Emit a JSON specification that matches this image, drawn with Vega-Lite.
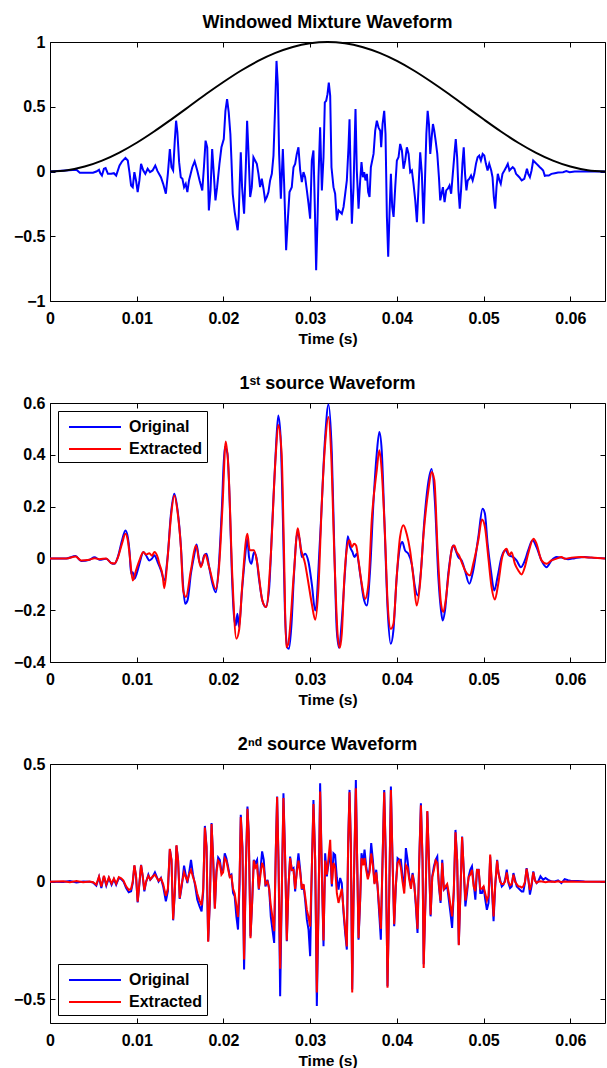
{
"$schema":"https://vega.github.io/schema/vega-lite/v6.json",
"background":"white",
"padding":{"left":12,"top":13,"right":2,"bottom":2},
"bounds":"flush",
"spacing":102,
"config":{
 "font":"Liberation Sans",
 "view":{"stroke":"black","strokeWidth":1},
 "axis":{"domain":false,"grid":false,"tickColor":"black","tickSize":-5,"tickWidth":1,"labelFont":"Liberation Sans","labelFontSize":16,"labelFontWeight":"bold","labelColor":"black","labelFlush":false,"labelOverlap":false,"titleFont":"Liberation Sans","titleFontSize":15.5,"titleFontWeight":"bold","titleColor":"black","titlePadding":5},
 "title":{"font":"Liberation Sans","fontSize":18,"fontWeight":"bold","color":"black","offset":2},
 "legend":{"title":null,"strokeColor":"black","fillColor":"white","padding":5,"symbolType":"M-2.6,0L2.6,0","symbolSize":400,"symbolStrokeWidth":2,"labelFont":"Liberation Sans","labelFontSize":16,"labelFontWeight":"bold","labelColor":"black","labelOffset":23,"symbolOffset":21,"rowPadding":3,"offset":8,"labelExpr":"datum.label + '    '"}
},
"datasets":{
"mix":[{"t":0,"v":0},{"t":0.00305,"v":0.013},{"t":0.00344,"v":-0.01},{"t":0.0042,"v":-0.01},{"t":0.00496,"v":-0.01},{"t":0.00534,"v":0},{"t":0.00565,"v":0.013},{"t":0.0058,"v":-0.013},{"t":0.00599,"v":-0.031},{"t":0.00622,"v":0.021},{"t":0.00641,"v":0.026},{"t":0.00668,"v":-0.018},{"t":0.00706,"v":-0.018},{"t":0.00737,"v":-0.013},{"t":0.00763,"v":-0.031},{"t":0.00802,"v":0.046},{"t":0.00832,"v":0.079},{"t":0.0087,"v":0.105},{"t":0.00897,"v":0.085},{"t":0.00916,"v":-0.005},{"t":0.00935,"v":-0.108},{"t":0.00954,"v":-0.121},{"t":0.00973,"v":-0.005},{"t":0.00992,"v":-0.069},{"t":0.01011,"v":-0.159},{"t":0.01031,"v":-0.069},{"t":0.0105,"v":0.059},{"t":0.01076,"v":0.008},{"t":0.01099,"v":-0.018},{"t":0.01126,"v":0.021},{"t":0.01153,"v":-0.005},{"t":0.01183,"v":0.008},{"t":0.01214,"v":0.046},{"t":0.0124,"v":0.003},{"t":0.01279,"v":-0.044},{"t":0.01305,"v":-0.095},{"t":0.01336,"v":-0.172},{"t":0.01359,"v":-0.018},{"t":0.01382,"v":0.174},{"t":0.01401,"v":0.033},{"t":0.0142,"v":0.008},{"t":0.01439,"v":0.238},{"t":0.01454,"v":0.392},{"t":0.01469,"v":0.303},{"t":0.01489,"v":0.072},{"t":0.01508,"v":-0.044},{"t":0.01527,"v":-0.056},{"t":0.01546,"v":-0.121},{"t":0.01565,"v":-0.095},{"t":0.01584,"v":-0.159},{"t":0.01603,"v":-0.069},{"t":0.01641,"v":0.033},{"t":0.01668,"v":0.079},{"t":0.01698,"v":0.008},{"t":0.01725,"v":-0.069},{"t":0.01756,"v":-0.146},{"t":0.01775,"v":0.033},{"t":0.01794,"v":0.238},{"t":0.01813,"v":0.187},{"t":0.01832,"v":-0.3},{"t":0.01851,"v":-0.146},{"t":0.0187,"v":0.174},{"t":0.01889,"v":-0.018},{"t":0.01908,"v":-0.223},{"t":0.01927,"v":-0.121},{"t":0.01954,"v":0.059},{"t":0.01977,"v":0.187},{"t":0.02004,"v":0.251},{"t":0.02023,"v":0.469},{"t":0.02042,"v":0.559},{"t":0.02061,"v":0.456},{"t":0.0208,"v":0.29},{"t":0.02092,"v":0.097},{"t":0.02107,"v":-0.172},{"t":0.0213,"v":-0.313},{"t":0.02145,"v":-0.377},{"t":0.02164,"v":-0.454},{"t":0.02176,"v":-0.35},{"t":0.02185,"v":-0.146},{"t":0.022,"v":0.149},{"t":0.02215,"v":-0.121},{"t":0.02238,"v":-0.326},{"t":0.02258,"v":0.033},{"t":0.02273,"v":0.392},{"t":0.02288,"v":0.162},{"t":0.02308,"v":-0.197},{"t":0.02327,"v":-0.121},{"t":0.02346,"v":0.11},{"t":0.02365,"v":0.085},{"t":0.02385,"v":0.059},{"t":0.02404,"v":-0.018},{"t":0.02423,"v":-0.121},{"t":0.02442,"v":-0.056},{"t":0.02462,"v":-0.133},{"t":0.02481,"v":-0.223},{"t":0.025,"v":-0.197},{"t":0.02519,"v":-0.159},{"t":0.02538,"v":-0.069},{"t":0.02558,"v":-0.018},{"t":0.02577,"v":0.123},{"t":0.02596,"v":0.495},{"t":0.02612,"v":0.854},{"t":0.02627,"v":0.674},{"t":0.02642,"v":0.136},{"t":0.02662,"v":-0.21},{"t":0.02685,"v":0.174},{"t":0.027,"v":-0.095},{"t":0.02723,"v":-0.608},{"t":0.02742,"v":-0.377},{"t":0.02762,"v":-0.159},{"t":0.02788,"v":-0.121},{"t":0.02808,"v":0.033},{"t":0.02827,"v":0.059},{"t":0.02846,"v":0.136},{"t":0.02865,"v":0.187},{"t":0.02885,"v":0.008},{"t":0.02904,"v":-0.082},{"t":0.02923,"v":-0.005},{"t":0.02942,"v":-0.044},{"t":0.02962,"v":-0.146},{"t":0.02981,"v":-0.249},{"t":0.03,"v":-0.364},{"t":0.03019,"v":0.085},{"t":0.03038,"v":0.162},{"t":0.03054,"v":-0.274},{"t":0.03069,"v":-0.762},{"t":0.03085,"v":-0.377},{"t":0.03096,"v":-0.044},{"t":0.03115,"v":0.341},{"t":0.03135,"v":-0.146},{"t":0.03154,"v":0.11},{"t":0.03169,"v":0.533},{"t":0.03185,"v":0.546},{"t":0.032,"v":0.597},{"t":0.03215,"v":0.687},{"t":0.03231,"v":0.585},{"t":0.03246,"v":0.033},{"t":0.03269,"v":-0.121},{"t":0.03288,"v":-0.172},{"t":0.03308,"v":-0.377},{"t":0.03327,"v":-0.3},{"t":0.03346,"v":-0.313},{"t":0.03365,"v":-0.326},{"t":0.03385,"v":-0.274},{"t":0.03404,"v":-0.172},{"t":0.03423,"v":-0.069},{"t":0.03442,"v":0.187},{"t":0.03454,"v":0.403},{"t":0.03469,"v":-0.095},{"t":0.03481,"v":-0.403},{"t":0.035,"v":-0.121},{"t":0.03523,"v":0.482},{"t":0.03538,"v":0.008},{"t":0.03558,"v":-0.287},{"t":0.03577,"v":-0.069},{"t":0.03592,"v":0.072},{"t":0.03608,"v":-0.044},{"t":0.03623,"v":-0.005},{"t":0.03638,"v":-0.069},{"t":0.03654,"v":-0.018},{"t":0.03669,"v":-0.159},{"t":0.03685,"v":-0.197},{"t":0.037,"v":0.033},{"t":0.03731,"v":0.136},{"t":0.0375,"v":0.315},{"t":0.03769,"v":0.392},{"t":0.03788,"v":0.341},{"t":0.03808,"v":0.315},{"t":0.03819,"v":0.187},{"t":0.03835,"v":0.367},{"t":0.03854,"v":0.469},{"t":0.03869,"v":0.29},{"t":0.03885,"v":-0.351},{"t":0.039,"v":-0.659},{"t":0.03915,"v":-0.326},{"t":0.03931,"v":-0.018},{"t":0.03946,"v":-0.274},{"t":0.03962,"v":-0.351},{"t":0.03981,"v":-0.121},{"t":0.04,"v":0.085},{"t":0.04019,"v":0.11},{"t":0.04038,"v":0.213},{"t":0.04058,"v":0.162},{"t":0.04077,"v":0.021},{"t":0.04096,"v":0.085},{"t":0.04115,"v":0.187},{"t":0.04135,"v":0.136},{"t":0.04154,"v":-0.005},{"t":0.04173,"v":0.008},{"t":0.04192,"v":-0.095},{"t":0.04212,"v":-0.223},{"t":0.04231,"v":-0.392},{"t":0.0425,"v":-0.121},{"t":0.04269,"v":0.149},{"t":0.04288,"v":-0.018},{"t":0.04308,"v":-0.404},{"t":0.04324,"v":-0.069},{"t":0.0434,"v":0.29},{"t":0.04355,"v":0.469},{"t":0.0437,"v":0.367},{"t":0.04385,"v":0.136},{"t":0.04401,"v":0.264},{"t":0.04416,"v":0.367},{"t":0.04431,"v":0.315},{"t":0.04447,"v":0.238},{"t":0.04466,"v":0.136},{"t":0.04485,"v":-0.044},{"t":0.045,"v":-0.223},{"t":0.04515,"v":-0.172},{"t":0.04531,"v":-0.121},{"t":0.0455,"v":-0.236},{"t":0.04569,"v":-0.146},{"t":0.04588,"v":-0.133},{"t":0.04607,"v":-0.108},{"t":0.04626,"v":-0.172},{"t":0.04645,"v":-0.018},{"t":0.04664,"v":0.136},{"t":0.04679,"v":0.251},{"t":0.04695,"v":0.11},{"t":0.0471,"v":-0.146},{"t":0.04725,"v":-0.287},{"t":0.0474,"v":-0.146},{"t":0.04756,"v":0.059},{"t":0.04771,"v":0.187},{"t":0.04786,"v":-0.018},{"t":0.04802,"v":-0.146},{"t":0.04817,"v":-0.069},{"t":0.04836,"v":-0.056},{"t":0.04855,"v":-0.031},{"t":0.04874,"v":-0.069},{"t":0.04893,"v":-0.018},{"t":0.04912,"v":0.059},{"t":0.04931,"v":0.11},{"t":0.0495,"v":0.123},{"t":0.04969,"v":0.085},{"t":0.04989,"v":0.136},{"t":0.05008,"v":0.123},{"t":0.05027,"v":0.059},{"t":0.05046,"v":0.008},{"t":0.05065,"v":0.059},{"t":0.05088,"v":0.008},{"t":0.05103,"v":-0.044},{"t":0.05118,"v":-0.197},{"t":0.05134,"v":-0.287},{"t":0.05149,"v":-0.121},{"t":0.05164,"v":-0.018},{"t":0.05183,"v":-0.069},{"t":0.05198,"v":-0.095},{"t":0.05218,"v":-0.018},{"t":0.0524,"v":0.008},{"t":0.0526,"v":0.033},{"t":0.05279,"v":0.059},{"t":0.05298,"v":0.008},{"t":0.05317,"v":0.021},{"t":0.05336,"v":0.033},{"t":0.05355,"v":0.021},{"t":0.05374,"v":-0.018},{"t":0.05393,"v":-0.031},{"t":0.05412,"v":-0.044},{"t":0.05439,"v":-0.069},{"t":0.05469,"v":-0.056},{"t":0.05485,"v":-0.018},{"t":0.055,"v":0.021},{"t":0.05515,"v":-0.018},{"t":0.05534,"v":-0.044},{"t":0.05553,"v":0.008},{"t":0.05572,"v":0.085},{"t":0.05592,"v":0.072},{"t":0.05611,"v":0.059},{"t":0.0563,"v":0.046},{"t":0.05649,"v":0.033},{"t":0.05668,"v":0.021},{"t":0.05687,"v":0.008},{"t":0.05706,"v":-0.033},{"t":0.05725,"v":-0.031},{"t":0.05752,"v":-0.031},{"t":0.05782,"v":-0.018},{"t":0.05821,"v":-0.013},{"t":0.05859,"v":-0.008},{"t":0.05916,"v":-0.005},{"t":0.05954,"v":0.003},{"t":0.05992,"v":-0.005},{"t":0.0605,"v":0},{"t":0.06126,"v":0},{"t":0.064,"v":0}],
"win":[{"t":0,"v":0},{"t":0.002,"v":0.0096},{"t":0.004,"v":0.038},{"t":0.006,"v":0.084},{"t":0.008,"v":0.146},{"t":0.01,"v":0.222},{"t":0.012,"v":0.309},{"t":0.014,"v":0.403},{"t":0.016,"v":0.5},{"t":0.018,"v":0.598},{"t":0.02,"v":0.691},{"t":0.022,"v":0.778},{"t":0.024,"v":0.854},{"t":0.026,"v":0.916},{"t":0.028,"v":0.962},{"t":0.03,"v":0.99},{"t":0.032,"v":1},{"t":0.034,"v":0.99},{"t":0.036,"v":0.962},{"t":0.038,"v":0.916},{"t":0.04,"v":0.854},{"t":0.042,"v":0.778},{"t":0.044,"v":0.691},{"t":0.046,"v":0.598},{"t":0.048,"v":0.5},{"t":0.05,"v":0.403},{"t":0.052,"v":0.309},{"t":0.054,"v":0.222},{"t":0.056,"v":0.146},{"t":0.058,"v":0.084},{"t":0.06,"v":0.038},{"t":0.062,"v":0.0096},{"t":0.064,"v":0}],
"s1o":[{"t":0,"v":0,"s":"Original"},{"t":0.00188,"v":0,"s":"Original"},{"t":0.00295,"v":0.009,"s":"Original"},{"t":0.0036,"v":-0.01,"s":"Original"},{"t":0.00456,"v":-0.005,"s":"Original"},{"t":0.00513,"v":0.004,"s":"Original"},{"t":0.00571,"v":-0.005,"s":"Original"},{"t":0.00648,"v":-0.001,"s":"Original"},{"t":0.00705,"v":-0.018,"s":"Original"},{"t":0.00743,"v":-0.021,"s":"Original"},{"t":0.00782,"v":0.005,"s":"Original"},{"t":0.00831,"v":0.07,"s":"Original"},{"t":0.0087,"v":0.108,"s":"Original"},{"t":0.00897,"v":0.082,"s":"Original"},{"t":0.00916,"v":0.031,"s":"Original"},{"t":0.00935,"v":-0.059,"s":"Original"},{"t":0.00954,"v":-0.053,"s":"Original"},{"t":0.00973,"v":-0.079,"s":"Original"},{"t":0.00992,"v":-0.066,"s":"Original"},{"t":0.01031,"v":-0.021,"s":"Original"},{"t":0.01077,"v":0.025,"s":"Original"},{"t":0.01107,"v":0.012,"s":"Original"},{"t":0.01146,"v":-0.008,"s":"Original"},{"t":0.01176,"v":-0.001,"s":"Original"},{"t":0.01203,"v":0.012,"s":"Original"},{"t":0.01241,"v":-0.014,"s":"Original"},{"t":0.0128,"v":-0.046,"s":"Original"},{"t":0.01318,"v":-0.085,"s":"Original"},{"t":0.01356,"v":0.005,"s":"Original"},{"t":0.01395,"v":0.173,"s":"Original"},{"t":0.01433,"v":0.25,"s":"Original"},{"t":0.01471,"v":0.186,"s":"Original"},{"t":0.0151,"v":0.044,"s":"Original"},{"t":0.01536,"v":-0.111,"s":"Original"},{"t":0.01559,"v":-0.175,"s":"Original"},{"t":0.01586,"v":-0.162,"s":"Original"},{"t":0.01625,"v":-0.059,"s":"Original"},{"t":0.01663,"v":0.012,"s":"Original"},{"t":0.0169,"v":0.054,"s":"Original"},{"t":0.0172,"v":-0.008,"s":"Original"},{"t":0.01747,"v":-0.027,"s":"Original"},{"t":0.01778,"v":0.012,"s":"Original"},{"t":0.01805,"v":0.018,"s":"Original"},{"t":0.01835,"v":-0.033,"s":"Original"},{"t":0.01874,"v":-0.098,"s":"Original"},{"t":0.01912,"v":-0.131,"s":"Original"},{"t":0.01943,"v":-0.046,"s":"Original"},{"t":0.01981,"v":0.186,"s":"Original"},{"t":0.02015,"v":0.43,"s":"Original"},{"t":0.02046,"v":0.405,"s":"Original"},{"t":0.02073,"v":0.211,"s":"Original"},{"t":0.02096,"v":-0.046,"s":"Original"},{"t":0.02123,"v":-0.227,"s":"Original"},{"t":0.02142,"v":-0.259,"s":"Original"},{"t":0.02161,"v":-0.214,"s":"Original"},{"t":0.0218,"v":-0.265,"s":"Original"},{"t":0.02211,"v":-0.137,"s":"Original"},{"t":0.02249,"v":0.005,"s":"Original"},{"t":0.02276,"v":0.076,"s":"Original"},{"t":0.02295,"v":0.005,"s":"Original"},{"t":0.02322,"v":-0.021,"s":"Original"},{"t":0.02352,"v":0.024,"s":"Original"},{"t":0.02379,"v":0.005,"s":"Original"},{"t":0.0241,"v":-0.079,"s":"Original"},{"t":0.02448,"v":-0.162,"s":"Original"},{"t":0.02487,"v":-0.188,"s":"Original"},{"t":0.02525,"v":-0.124,"s":"Original"},{"t":0.02563,"v":0.134,"s":"Original"},{"t":0.02602,"v":0.405,"s":"Original"},{"t":0.02632,"v":0.552,"s":"Original"},{"t":0.02659,"v":0.469,"s":"Original"},{"t":0.02686,"v":0.147,"s":"Original"},{"t":0.02709,"v":-0.201,"s":"Original"},{"t":0.02736,"v":-0.343,"s":"Original"},{"t":0.02755,"v":-0.349,"s":"Original"},{"t":0.02785,"v":-0.253,"s":"Original"},{"t":0.02812,"v":-0.072,"s":"Original"},{"t":0.02851,"v":0.095,"s":"Original"},{"t":0.02881,"v":0.07,"s":"Original"},{"t":0.02904,"v":0.005,"s":"Original"},{"t":0.02942,"v":0.018,"s":"Original"},{"t":0.02981,"v":-0.014,"s":"Original"},{"t":0.03019,"v":-0.098,"s":"Original"},{"t":0.03058,"v":-0.201,"s":"Original"},{"t":0.03115,"v":0.082,"s":"Original"},{"t":0.03173,"v":0.469,"s":"Original"},{"t":0.03211,"v":0.594,"s":"Original"},{"t":0.0325,"v":0.405,"s":"Original"},{"t":0.0328,"v":0.018,"s":"Original"},{"t":0.03307,"v":-0.278,"s":"Original"},{"t":0.03334,"v":-0.345,"s":"Original"},{"t":0.03365,"v":-0.24,"s":"Original"},{"t":0.03403,"v":-0.046,"s":"Original"},{"t":0.03434,"v":0.086,"s":"Original"},{"t":0.03461,"v":0.044,"s":"Original"},{"t":0.03488,"v":0.025,"s":"Original"},{"t":0.03511,"v":0.005,"s":"Original"},{"t":0.03537,"v":0.018,"s":"Original"},{"t":0.03576,"v":-0.059,"s":"Original"},{"t":0.03614,"v":-0.149,"s":"Original"},{"t":0.03653,"v":-0.182,"s":"Original"},{"t":0.03691,"v":-0.046,"s":"Original"},{"t":0.03729,"v":0.211,"s":"Original"},{"t":0.03768,"v":0.405,"s":"Original"},{"t":0.03798,"v":0.488,"s":"Original"},{"t":0.03825,"v":0.418,"s":"Original"},{"t":0.03856,"v":0.147,"s":"Original"},{"t":0.03894,"v":-0.201,"s":"Original"},{"t":0.03929,"v":-0.33,"s":"Original"},{"t":0.0396,"v":-0.278,"s":"Original"},{"t":0.03998,"v":-0.072,"s":"Original"},{"t":0.04036,"v":0.044,"s":"Original"},{"t":0.04063,"v":0.063,"s":"Original"},{"t":0.04094,"v":0.031,"s":"Original"},{"t":0.04132,"v":0.018,"s":"Original"},{"t":0.04171,"v":-0.021,"s":"Original"},{"t":0.04209,"v":-0.111,"s":"Original"},{"t":0.0424,"v":-0.143,"s":"Original"},{"t":0.04278,"v":-0.046,"s":"Original"},{"t":0.04317,"v":0.147,"s":"Original"},{"t":0.04355,"v":0.276,"s":"Original"},{"t":0.04401,"v":0.345,"s":"Original"},{"t":0.0444,"v":0.211,"s":"Original"},{"t":0.04478,"v":-0.072,"s":"Original"},{"t":0.04509,"v":-0.201,"s":"Original"},{"t":0.04528,"v":-0.24,"s":"Original"},{"t":0.04555,"v":-0.201,"s":"Original"},{"t":0.04593,"v":-0.059,"s":"Original"},{"t":0.04631,"v":0.031,"s":"Original"},{"t":0.04651,"v":0.05,"s":"Original"},{"t":0.04678,"v":0.031,"s":"Original"},{"t":0.04708,"v":0.005,"s":"Original"},{"t":0.04747,"v":-0.008,"s":"Original"},{"t":0.04785,"v":-0.046,"s":"Original"},{"t":0.04835,"v":-0.098,"s":"Original"},{"t":0.04881,"v":-0.046,"s":"Original"},{"t":0.04939,"v":0.082,"s":"Original"},{"t":0.04988,"v":0.192,"s":"Original"},{"t":0.05015,"v":0.173,"s":"Original"},{"t":0.05046,"v":0.057,"s":"Original"},{"t":0.05084,"v":-0.046,"s":"Original"},{"t":0.05123,"v":-0.124,"s":"Original"},{"t":0.05161,"v":-0.072,"s":"Original"},{"t":0.05207,"v":0.005,"s":"Original"},{"t":0.05253,"v":0.031,"s":"Original"},{"t":0.05292,"v":0.012,"s":"Original"},{"t":0.05342,"v":0.005,"s":"Original"},{"t":0.0538,"v":-0.008,"s":"Original"},{"t":0.0543,"v":-0.034,"s":"Original"},{"t":0.05476,"v":-0.008,"s":"Original"},{"t":0.05514,"v":0.031,"s":"Original"},{"t":0.05564,"v":0.07,"s":"Original"},{"t":0.0561,"v":0.044,"s":"Original"},{"t":0.05668,"v":-0.008,"s":"Original"},{"t":0.05726,"v":-0.034,"s":"Original"},{"t":0.05783,"v":-0.008,"s":"Original"},{"t":0.05841,"v":0.005,"s":"Original"},{"t":0.05898,"v":0.003,"s":"Original"},{"t":0.05975,"v":-0.003,"s":"Original"},{"t":0.06052,"v":0.001,"s":"Original"},{"t":0.06167,"v":0.005,"s":"Original"},{"t":0.06244,"v":0.003,"s":"Original"},{"t":0.064,"v":0,"s":"Original"}],
"s1e":[{"t":0,"v":0,"s":"Extracted"},{"t":0.00188,"v":0,"s":"Extracted"},{"t":0.00295,"v":0.007,"s":"Extracted"},{"t":0.0036,"v":-0.008,"s":"Extracted"},{"t":0.00456,"v":-0.005,"s":"Extracted"},{"t":0.00513,"v":0.001,"s":"Extracted"},{"t":0.00571,"v":-0.003,"s":"Extracted"},{"t":0.00648,"v":0,"s":"Extracted"},{"t":0.00705,"v":-0.018,"s":"Extracted"},{"t":0.00743,"v":-0.02,"s":"Extracted"},{"t":0.00782,"v":0.003,"s":"Extracted"},{"t":0.00831,"v":0.058,"s":"Extracted"},{"t":0.0087,"v":0.095,"s":"Extracted"},{"t":0.00897,"v":0.07,"s":"Extracted"},{"t":0.00923,"v":0,"s":"Extracted"},{"t":0.00954,"v":-0.085,"s":"Extracted"},{"t":0.00992,"v":-0.046,"s":"Extracted"},{"t":0.01031,"v":-0.008,"s":"Extracted"},{"t":0.01077,"v":0.025,"s":"Extracted"},{"t":0.01107,"v":0.015,"s":"Extracted"},{"t":0.01146,"v":0.02,"s":"Extracted"},{"t":0.01176,"v":0.01,"s":"Extracted"},{"t":0.01203,"v":0.025,"s":"Extracted"},{"t":0.01241,"v":0.005,"s":"Extracted"},{"t":0.01261,"v":-0.021,"s":"Extracted"},{"t":0.01299,"v":-0.066,"s":"Extracted"},{"t":0.01318,"v":-0.115,"s":"Extracted"},{"t":0.01356,"v":0,"s":"Extracted"},{"t":0.01395,"v":0.16,"s":"Extracted"},{"t":0.01433,"v":0.243,"s":"Extracted"},{"t":0.01471,"v":0.18,"s":"Extracted"},{"t":0.0151,"v":0.04,"s":"Extracted"},{"t":0.01536,"v":-0.124,"s":"Extracted"},{"t":0.01567,"v":-0.149,"s":"Extracted"},{"t":0.01625,"v":-0.046,"s":"Extracted"},{"t":0.01682,"v":0.05,"s":"Extracted"},{"t":0.01739,"v":-0.034,"s":"Extracted"},{"t":0.01789,"v":0.015,"s":"Extracted"},{"t":0.01835,"v":-0.033,"s":"Extracted"},{"t":0.01912,"v":-0.118,"s":"Extracted"},{"t":0.0195,"v":-0.03,"s":"Extracted"},{"t":0.01989,"v":0.2,"s":"Extracted"},{"t":0.02027,"v":0.451,"s":"Extracted"},{"t":0.02057,"v":0.35,"s":"Extracted"},{"t":0.02103,"v":-0.072,"s":"Extracted"},{"t":0.02149,"v":-0.31,"s":"Extracted"},{"t":0.0218,"v":-0.278,"s":"Extracted"},{"t":0.02218,"v":-0.098,"s":"Extracted"},{"t":0.02276,"v":0.095,"s":"Extracted"},{"t":0.02303,"v":0.031,"s":"Extracted"},{"t":0.02352,"v":0.031,"s":"Extracted"},{"t":0.02391,"v":-0.021,"s":"Extracted"},{"t":0.02448,"v":-0.162,"s":"Extracted"},{"t":0.02494,"v":-0.188,"s":"Extracted"},{"t":0.02544,"v":0,"s":"Extracted"},{"t":0.02602,"v":0.392,"s":"Extracted"},{"t":0.02632,"v":0.515,"s":"Extracted"},{"t":0.02671,"v":0.405,"s":"Extracted"},{"t":0.02697,"v":0.05,"s":"Extracted"},{"t":0.02724,"v":-0.343,"s":"Extracted"},{"t":0.02747,"v":-0.33,"s":"Extracted"},{"t":0.02812,"v":-0.059,"s":"Extracted"},{"t":0.02858,"v":0.116,"s":"Extracted"},{"t":0.02889,"v":0.044,"s":"Extracted"},{"t":0.02942,"v":-0.021,"s":"Extracted"},{"t":0.02981,"v":-0.098,"s":"Extracted"},{"t":0.03019,"v":-0.175,"s":"Extracted"},{"t":0.03058,"v":-0.237,"s":"Extracted"},{"t":0.03096,"v":-0.111,"s":"Extracted"},{"t":0.03134,"v":0.211,"s":"Extracted"},{"t":0.03173,"v":0.443,"s":"Extracted"},{"t":0.03211,"v":0.546,"s":"Extracted"},{"t":0.03242,"v":0.405,"s":"Extracted"},{"t":0.0328,"v":0.005,"s":"Extracted"},{"t":0.03319,"v":-0.304,"s":"Extracted"},{"t":0.03342,"v":-0.345,"s":"Extracted"},{"t":0.03365,"v":-0.29,"s":"Extracted"},{"t":0.03395,"v":-0.072,"s":"Extracted"},{"t":0.03434,"v":0.057,"s":"Extracted"},{"t":0.03453,"v":0.07,"s":"Extracted"},{"t":0.0348,"v":0.044,"s":"Extracted"},{"t":0.03507,"v":0.057,"s":"Extracted"},{"t":0.0353,"v":0.05,"s":"Extracted"},{"t":0.03557,"v":-0.008,"s":"Extracted"},{"t":0.03595,"v":-0.098,"s":"Extracted"},{"t":0.03633,"v":-0.156,"s":"Extracted"},{"t":0.03672,"v":-0.098,"s":"Extracted"},{"t":0.0371,"v":0.147,"s":"Extracted"},{"t":0.03768,"v":0.34,"s":"Extracted"},{"t":0.03798,"v":0.418,"s":"Extracted"},{"t":0.03825,"v":0.34,"s":"Extracted"},{"t":0.03864,"v":0.082,"s":"Extracted"},{"t":0.03894,"v":-0.175,"s":"Extracted"},{"t":0.03929,"v":-0.272,"s":"Extracted"},{"t":0.0396,"v":-0.253,"s":"Extracted"},{"t":0.03998,"v":-0.072,"s":"Extracted"},{"t":0.04036,"v":0.082,"s":"Extracted"},{"t":0.04075,"v":0.128,"s":"Extracted"},{"t":0.04113,"v":0.095,"s":"Extracted"},{"t":0.04152,"v":0.031,"s":"Extracted"},{"t":0.0419,"v":-0.072,"s":"Extracted"},{"t":0.04228,"v":-0.182,"s":"Extracted"},{"t":0.04267,"v":-0.098,"s":"Extracted"},{"t":0.04305,"v":0.082,"s":"Extracted"},{"t":0.04363,"v":0.263,"s":"Extracted"},{"t":0.04401,"v":0.334,"s":"Extracted"},{"t":0.04432,"v":0.302,"s":"Extracted"},{"t":0.0447,"v":0.031,"s":"Extracted"},{"t":0.04509,"v":-0.175,"s":"Extracted"},{"t":0.04536,"v":-0.207,"s":"Extracted"},{"t":0.04563,"v":-0.162,"s":"Extracted"},{"t":0.04601,"v":-0.046,"s":"Extracted"},{"t":0.04639,"v":0.044,"s":"Extracted"},{"t":0.04662,"v":0.05,"s":"Extracted"},{"t":0.04689,"v":0.025,"s":"Extracted"},{"t":0.04716,"v":0.012,"s":"Extracted"},{"t":0.04747,"v":-0.014,"s":"Extracted"},{"t":0.04785,"v":-0.046,"s":"Extracted"},{"t":0.04843,"v":-0.066,"s":"Extracted"},{"t":0.04881,"v":-0.021,"s":"Extracted"},{"t":0.04939,"v":0.07,"s":"Extracted"},{"t":0.04981,"v":0.15,"s":"Extracted"},{"t":0.05015,"v":0.122,"s":"Extracted"},{"t":0.05054,"v":0.005,"s":"Extracted"},{"t":0.05092,"v":-0.111,"s":"Extracted"},{"t":0.0513,"v":-0.159,"s":"Extracted"},{"t":0.05169,"v":-0.098,"s":"Extracted"},{"t":0.05215,"v":0.005,"s":"Extracted"},{"t":0.05265,"v":0.037,"s":"Extracted"},{"t":0.05296,"v":0.012,"s":"Extracted"},{"t":0.05322,"v":0.024,"s":"Extracted"},{"t":0.05361,"v":-0.021,"s":"Extracted"},{"t":0.05399,"v":-0.046,"s":"Extracted"},{"t":0.05438,"v":-0.062,"s":"Extracted"},{"t":0.05476,"v":-0.033,"s":"Extracted"},{"t":0.05514,"v":0.018,"s":"Extracted"},{"t":0.05576,"v":0.076,"s":"Extracted"},{"t":0.0561,"v":0.057,"s":"Extracted"},{"t":0.05668,"v":-0.008,"s":"Extracted"},{"t":0.05726,"v":-0.021,"s":"Extracted"},{"t":0.05783,"v":-0.008,"s":"Extracted"},{"t":0.05841,"v":-0.001,"s":"Extracted"},{"t":0.05898,"v":0.005,"s":"Extracted"},{"t":0.05937,"v":-0.001,"s":"Extracted"},{"t":0.06013,"v":0.003,"s":"Extracted"},{"t":0.06129,"v":0.005,"s":"Extracted"},{"t":0.06244,"v":0.003,"s":"Extracted"},{"t":0.064,"v":0,"s":"Extracted"}],
"s2o":[{"t":0,"v":0,"s":"Original"},{"t":0.00153,"v":-0.001,"s":"Original"},{"t":0.00229,"v":0.003,"s":"Original"},{"t":0.00305,"v":-0.003,"s":"Original"},{"t":0.00382,"v":0.001,"s":"Original"},{"t":0.00458,"v":0,"s":"Original"},{"t":0.00496,"v":-0.003,"s":"Original"},{"t":0.00534,"v":-0.017,"s":"Original"},{"t":0.00565,"v":0.02,"s":"Original"},{"t":0.00592,"v":-0.027,"s":"Original"},{"t":0.00622,"v":0.023,"s":"Original"},{"t":0.00649,"v":-0.017,"s":"Original"},{"t":0.00679,"v":0.016,"s":"Original"},{"t":0.0071,"v":-0.013,"s":"Original"},{"t":0.00737,"v":0.011,"s":"Original"},{"t":0.00763,"v":-0.013,"s":"Original"},{"t":0.00794,"v":0.016,"s":"Original"},{"t":0.00821,"v":0.011,"s":"Original"},{"t":0.00847,"v":0.001,"s":"Original"},{"t":0.00878,"v":-0.027,"s":"Original"},{"t":0.00908,"v":-0.045,"s":"Original"},{"t":0.00935,"v":-0.041,"s":"Original"},{"t":0.00954,"v":-0.006,"s":"Original"},{"t":0.00973,"v":0.068,"s":"Original"},{"t":0.00992,"v":0.023,"s":"Original"},{"t":0.01011,"v":-0.088,"s":"Original"},{"t":0.01031,"v":-0.008,"s":"Original"},{"t":0.0105,"v":0.072,"s":"Original"},{"t":0.01069,"v":0.023,"s":"Original"},{"t":0.01088,"v":-0.041,"s":"Original"},{"t":0.01107,"v":-0.003,"s":"Original"},{"t":0.01134,"v":0.03,"s":"Original"},{"t":0.01156,"v":0.008,"s":"Original"},{"t":0.01183,"v":0.02,"s":"Original"},{"t":0.0121,"v":0.04,"s":"Original"},{"t":0.01229,"v":0.023,"s":"Original"},{"t":0.01252,"v":0.001,"s":"Original"},{"t":0.01279,"v":0.016,"s":"Original"},{"t":0.01305,"v":-0.02,"s":"Original"},{"t":0.01336,"v":-0.083,"s":"Original"},{"t":0.01359,"v":-0.041,"s":"Original"},{"t":0.01382,"v":0.138,"s":"Original"},{"t":0.01401,"v":0.093,"s":"Original"},{"t":0.0142,"v":-0.164,"s":"Original"},{"t":0.01439,"v":-0.048,"s":"Original"},{"t":0.01458,"v":0.153,"s":"Original"},{"t":0.01477,"v":0.093,"s":"Original"},{"t":0.01496,"v":-0.073,"s":"Original"},{"t":0.01519,"v":-0.02,"s":"Original"},{"t":0.01546,"v":0.068,"s":"Original"},{"t":0.01565,"v":0.03,"s":"Original"},{"t":0.01584,"v":-0.006,"s":"Original"},{"t":0.01603,"v":0.034,"s":"Original"},{"t":0.01626,"v":0.093,"s":"Original"},{"t":0.01649,"v":0.03,"s":"Original"},{"t":0.01672,"v":-0.013,"s":"Original"},{"t":0.01698,"v":-0.076,"s":"Original"},{"t":0.01725,"v":-0.105,"s":"Original"},{"t":0.01748,"v":-0.126,"s":"Original"},{"t":0.01767,"v":-0.041,"s":"Original"},{"t":0.01786,"v":0.237,"s":"Original"},{"t":0.01805,"v":0.15,"s":"Original"},{"t":0.01824,"v":-0.253,"s":"Original"},{"t":0.01844,"v":-0.076,"s":"Original"},{"t":0.01863,"v":0.249,"s":"Original"},{"t":0.01882,"v":0.093,"s":"Original"},{"t":0.01901,"v":-0.112,"s":"Original"},{"t":0.0192,"v":0.051,"s":"Original"},{"t":0.01939,"v":0.103,"s":"Original"},{"t":0.01958,"v":0.093,"s":"Original"},{"t":0.01977,"v":0.044,"s":"Original"},{"t":0.01996,"v":0.051,"s":"Original"},{"t":0.02015,"v":0.121,"s":"Original"},{"t":0.02034,"v":0.1,"s":"Original"},{"t":0.02053,"v":0.065,"s":"Original"},{"t":0.02073,"v":0.023,"s":"Original"},{"t":0.02092,"v":0.03,"s":"Original"},{"t":0.02111,"v":-0.048,"s":"Original"},{"t":0.0213,"v":-0.062,"s":"Original"},{"t":0.02149,"v":-0.147,"s":"Original"},{"t":0.02168,"v":-0.203,"s":"Original"},{"t":0.02185,"v":-0.027,"s":"Original"},{"t":0.022,"v":0.284,"s":"Original"},{"t":0.02219,"v":0.15,"s":"Original"},{"t":0.02238,"v":-0.373,"s":"Original"},{"t":0.02258,"v":0.051,"s":"Original"},{"t":0.02277,"v":0.319,"s":"Original"},{"t":0.02292,"v":0.206,"s":"Original"},{"t":0.02312,"v":-0.232,"s":"Original"},{"t":0.02331,"v":-0.09,"s":"Original"},{"t":0.0235,"v":0.093,"s":"Original"},{"t":0.02369,"v":0.079,"s":"Original"},{"t":0.02388,"v":0.093,"s":"Original"},{"t":0.02408,"v":-0.034,"s":"Original"},{"t":0.02427,"v":0.051,"s":"Original"},{"t":0.02446,"v":0.129,"s":"Original"},{"t":0.02465,"v":0.093,"s":"Original"},{"t":0.02485,"v":-0.02,"s":"Original"},{"t":0.02508,"v":0.008,"s":"Original"},{"t":0.02527,"v":-0.027,"s":"Original"},{"t":0.02546,"v":-0.147,"s":"Original"},{"t":0.02565,"v":-0.203,"s":"Original"},{"t":0.02585,"v":-0.26,"s":"Original"},{"t":0.02604,"v":0.136,"s":"Original"},{"t":0.02619,"v":0.362,"s":"Original"},{"t":0.02635,"v":0.093,"s":"Original"},{"t":0.02654,"v":-0.486,"s":"Original"},{"t":0.02673,"v":-0.048,"s":"Original"},{"t":0.02692,"v":0.376,"s":"Original"},{"t":0.02712,"v":0.093,"s":"Original"},{"t":0.02731,"v":-0.253,"s":"Original"},{"t":0.0275,"v":-0.02,"s":"Original"},{"t":0.02769,"v":0.107,"s":"Original"},{"t":0.02788,"v":0.051,"s":"Original"},{"t":0.02808,"v":0.058,"s":"Original"},{"t":0.02827,"v":-0.041,"s":"Original"},{"t":0.02846,"v":0.051,"s":"Original"},{"t":0.02865,"v":0.121,"s":"Original"},{"t":0.02885,"v":0.051,"s":"Original"},{"t":0.02904,"v":-0.034,"s":"Original"},{"t":0.02923,"v":-0.013,"s":"Original"},{"t":0.02942,"v":-0.076,"s":"Original"},{"t":0.02962,"v":-0.161,"s":"Original"},{"t":0.02981,"v":-0.203,"s":"Original"},{"t":0.03,"v":-0.316,"s":"Original"},{"t":0.03019,"v":0.051,"s":"Original"},{"t":0.03038,"v":0.347,"s":"Original"},{"t":0.03058,"v":0.093,"s":"Original"},{"t":0.03077,"v":-0.528,"s":"Original"},{"t":0.03096,"v":-0.119,"s":"Original"},{"t":0.03115,"v":0.418,"s":"Original"},{"t":0.03135,"v":0.037,"s":"Original"},{"t":0.03154,"v":-0.274,"s":"Original"},{"t":0.03173,"v":0.121,"s":"Original"},{"t":0.03192,"v":0.023,"s":"Original"},{"t":0.03212,"v":0.079,"s":"Original"},{"t":0.03231,"v":0.136,"s":"Original"},{"t":0.0325,"v":-0.02,"s":"Original"},{"t":0.03269,"v":0.121,"s":"Original"},{"t":0.03288,"v":0.114,"s":"Original"},{"t":0.03308,"v":0.016,"s":"Original"},{"t":0.03327,"v":-0.034,"s":"Original"},{"t":0.03346,"v":0.016,"s":"Original"},{"t":0.03365,"v":-0.006,"s":"Original"},{"t":0.03385,"v":-0.133,"s":"Original"},{"t":0.03404,"v":-0.218,"s":"Original"},{"t":0.03423,"v":-0.288,"s":"Original"},{"t":0.03438,"v":0.164,"s":"Original"},{"t":0.03454,"v":0.39,"s":"Original"},{"t":0.03469,"v":0.164,"s":"Original"},{"t":0.03485,"v":-0.458,"s":"Original"},{"t":0.035,"v":-0.076,"s":"Original"},{"t":0.03515,"v":0.192,"s":"Original"},{"t":0.03527,"v":0.432,"s":"Original"},{"t":0.03542,"v":0.093,"s":"Original"},{"t":0.03558,"v":-0.246,"s":"Original"},{"t":0.03577,"v":-0.076,"s":"Original"},{"t":0.03592,"v":0.121,"s":"Original"},{"t":0.03612,"v":0.079,"s":"Original"},{"t":0.03627,"v":0.136,"s":"Original"},{"t":0.03646,"v":0.065,"s":"Original"},{"t":0.03665,"v":0.023,"s":"Original"},{"t":0.03685,"v":0.051,"s":"Original"},{"t":0.03704,"v":0.164,"s":"Original"},{"t":0.03723,"v":0.093,"s":"Original"},{"t":0.03742,"v":-0.006,"s":"Original"},{"t":0.03762,"v":0.051,"s":"Original"},{"t":0.03777,"v":-0.02,"s":"Original"},{"t":0.03796,"v":-0.133,"s":"Original"},{"t":0.03815,"v":-0.246,"s":"Original"},{"t":0.03835,"v":0.093,"s":"Original"},{"t":0.03854,"v":0.39,"s":"Original"},{"t":0.03873,"v":0.093,"s":"Original"},{"t":0.03892,"v":-0.444,"s":"Original"},{"t":0.03912,"v":-0.048,"s":"Original"},{"t":0.03931,"v":0.404,"s":"Original"},{"t":0.0395,"v":0.093,"s":"Original"},{"t":0.03969,"v":-0.189,"s":"Original"},{"t":0.03988,"v":-0.02,"s":"Original"},{"t":0.04008,"v":0.1,"s":"Original"},{"t":0.04027,"v":0.093,"s":"Original"},{"t":0.04046,"v":0.093,"s":"Original"},{"t":0.04065,"v":0.023,"s":"Original"},{"t":0.04085,"v":-0.02,"s":"Original"},{"t":0.04104,"v":0.143,"s":"Original"},{"t":0.04123,"v":0.093,"s":"Original"},{"t":0.04142,"v":0.023,"s":"Original"},{"t":0.04162,"v":-0.02,"s":"Original"},{"t":0.04181,"v":0.037,"s":"Original"},{"t":0.042,"v":-0.006,"s":"Original"},{"t":0.04219,"v":-0.105,"s":"Original"},{"t":0.04238,"v":-0.218,"s":"Original"},{"t":0.04258,"v":0.093,"s":"Original"},{"t":0.04277,"v":0.333,"s":"Original"},{"t":0.04296,"v":0.093,"s":"Original"},{"t":0.04309,"v":-0.35,"s":"Original"},{"t":0.04332,"v":-0.048,"s":"Original"},{"t":0.04351,"v":0.298,"s":"Original"},{"t":0.0437,"v":0.093,"s":"Original"},{"t":0.04389,"v":-0.147,"s":"Original"},{"t":0.04408,"v":0.023,"s":"Original"},{"t":0.04427,"v":0.065,"s":"Original"},{"t":0.04447,"v":0.093,"s":"Original"},{"t":0.04466,"v":0.107,"s":"Original"},{"t":0.04485,"v":-0.02,"s":"Original"},{"t":0.04504,"v":-0.09,"s":"Original"},{"t":0.04523,"v":0.093,"s":"Original"},{"t":0.04542,"v":-0.034,"s":"Original"},{"t":0.04561,"v":-0.027,"s":"Original"},{"t":0.0458,"v":-0.02,"s":"Original"},{"t":0.04599,"v":-0.076,"s":"Original"},{"t":0.04618,"v":-0.133,"s":"Original"},{"t":0.04637,"v":-0.196,"s":"Original"},{"t":0.04656,"v":-0.048,"s":"Original"},{"t":0.04676,"v":0.22,"s":"Original"},{"t":0.04695,"v":0.093,"s":"Original"},{"t":0.04714,"v":-0.267,"s":"Original"},{"t":0.04733,"v":-0.048,"s":"Original"},{"t":0.04752,"v":0.192,"s":"Original"},{"t":0.04771,"v":0.051,"s":"Original"},{"t":0.0479,"v":-0.105,"s":"Original"},{"t":0.04809,"v":-0.048,"s":"Original"},{"t":0.04828,"v":0.023,"s":"Original"},{"t":0.04847,"v":0.051,"s":"Original"},{"t":0.04866,"v":0.065,"s":"Original"},{"t":0.04885,"v":-0.006,"s":"Original"},{"t":0.04905,"v":-0.076,"s":"Original"},{"t":0.04924,"v":0.051,"s":"Original"},{"t":0.04943,"v":0.051,"s":"Original"},{"t":0.04962,"v":-0.048,"s":"Original"},{"t":0.04981,"v":-0.048,"s":"Original"},{"t":0.05,"v":-0.02,"s":"Original"},{"t":0.05019,"v":-0.076,"s":"Original"},{"t":0.05038,"v":-0.119,"s":"Original"},{"t":0.05057,"v":-0.09,"s":"Original"},{"t":0.05076,"v":0.107,"s":"Original"},{"t":0.05095,"v":-0.02,"s":"Original"},{"t":0.05115,"v":-0.168,"s":"Original"},{"t":0.05134,"v":-0.02,"s":"Original"},{"t":0.05156,"v":0.093,"s":"Original"},{"t":0.05172,"v":0.037,"s":"Original"},{"t":0.05191,"v":0.008,"s":"Original"},{"t":0.0521,"v":-0.02,"s":"Original"},{"t":0.05229,"v":-0.013,"s":"Original"},{"t":0.05248,"v":0.008,"s":"Original"},{"t":0.05267,"v":0.051,"s":"Original"},{"t":0.05286,"v":-0.006,"s":"Original"},{"t":0.05305,"v":-0.027,"s":"Original"},{"t":0.05324,"v":-0.02,"s":"Original"},{"t":0.05344,"v":0.037,"s":"Original"},{"t":0.05363,"v":0.008,"s":"Original"},{"t":0.05382,"v":-0.02,"s":"Original"},{"t":0.05401,"v":-0.027,"s":"Original"},{"t":0.0542,"v":-0.034,"s":"Original"},{"t":0.05439,"v":-0.041,"s":"Original"},{"t":0.05458,"v":-0.041,"s":"Original"},{"t":0.05477,"v":-0.006,"s":"Original"},{"t":0.05496,"v":0.058,"s":"Original"},{"t":0.05515,"v":0.016,"s":"Original"},{"t":0.05534,"v":-0.055,"s":"Original"},{"t":0.05553,"v":-0.02,"s":"Original"},{"t":0.05573,"v":0.044,"s":"Original"},{"t":0.05592,"v":0.008,"s":"Original"},{"t":0.05611,"v":-0.006,"s":"Original"},{"t":0.0563,"v":0.001,"s":"Original"},{"t":0.05656,"v":0.023,"s":"Original"},{"t":0.05687,"v":0.008,"s":"Original"},{"t":0.05714,"v":0.016,"s":"Original"},{"t":0.05744,"v":0.008,"s":"Original"},{"t":0.05782,"v":0.001,"s":"Original"},{"t":0.05821,"v":0.001,"s":"Original"},{"t":0.05859,"v":0.006,"s":"Original"},{"t":0.05897,"v":-0.006,"s":"Original"},{"t":0.05935,"v":0.011,"s":"Original"},{"t":0.05973,"v":0.006,"s":"Original"},{"t":0.06011,"v":0.003,"s":"Original"},{"t":0.06088,"v":0.003,"s":"Original"},{"t":0.06164,"v":0.001,"s":"Original"},{"t":0.064,"v":0,"s":"Original"}],
"s2e":[{"t":0,"v":0,"s":"Extracted"},{"t":0.00153,"v":0.002,"s":"Extracted"},{"t":0.00229,"v":-0.002,"s":"Extracted"},{"t":0.00305,"v":0.003,"s":"Extracted"},{"t":0.00382,"v":-0.002,"s":"Extracted"},{"t":0.00458,"v":0.001,"s":"Extracted"},{"t":0.00496,"v":-0.002,"s":"Extracted"},{"t":0.00534,"v":-0.012,"s":"Extracted"},{"t":0.00565,"v":0.022,"s":"Extracted"},{"t":0.00592,"v":-0.02,"s":"Extracted"},{"t":0.00622,"v":0.025,"s":"Extracted"},{"t":0.00649,"v":-0.012,"s":"Extracted"},{"t":0.00679,"v":0.018,"s":"Extracted"},{"t":0.0071,"v":-0.008,"s":"Extracted"},{"t":0.00737,"v":0.014,"s":"Extracted"},{"t":0.00763,"v":-0.008,"s":"Extracted"},{"t":0.00794,"v":0.02,"s":"Extracted"},{"t":0.00821,"v":0.015,"s":"Extracted"},{"t":0.00847,"v":0.005,"s":"Extracted"},{"t":0.00878,"v":-0.02,"s":"Extracted"},{"t":0.00908,"v":-0.035,"s":"Extracted"},{"t":0.00935,"v":-0.03,"s":"Extracted"},{"t":0.00954,"v":0,"s":"Extracted"},{"t":0.00973,"v":0.07,"s":"Extracted"},{"t":0.00992,"v":0.025,"s":"Extracted"},{"t":0.01011,"v":-0.085,"s":"Extracted"},{"t":0.01031,"v":-0.005,"s":"Extracted"},{"t":0.0105,"v":0.07,"s":"Extracted"},{"t":0.01069,"v":0.025,"s":"Extracted"},{"t":0.01088,"v":-0.035,"s":"Extracted"},{"t":0.01107,"v":0,"s":"Extracted"},{"t":0.01134,"v":0.025,"s":"Extracted"},{"t":0.01156,"v":0.01,"s":"Extracted"},{"t":0.01183,"v":0.022,"s":"Extracted"},{"t":0.0121,"v":0.03,"s":"Extracted"},{"t":0.01229,"v":0.018,"s":"Extracted"},{"t":0.01252,"v":0.005,"s":"Extracted"},{"t":0.01279,"v":0.015,"s":"Extracted"},{"t":0.01305,"v":-0.01,"s":"Extracted"},{"t":0.01336,"v":-0.06,"s":"Extracted"},{"t":0.01359,"v":-0.03,"s":"Extracted"},{"t":0.01382,"v":0.14,"s":"Extracted"},{"t":0.01401,"v":0.09,"s":"Extracted"},{"t":0.0142,"v":-0.16,"s":"Extracted"},{"t":0.01439,"v":-0.045,"s":"Extracted"},{"t":0.01458,"v":0.155,"s":"Extracted"},{"t":0.01477,"v":0.09,"s":"Extracted"},{"t":0.01496,"v":-0.07,"s":"Extracted"},{"t":0.01519,"v":-0.01,"s":"Extracted"},{"t":0.01546,"v":0.04,"s":"Extracted"},{"t":0.01565,"v":0.02,"s":"Extracted"},{"t":0.01584,"v":0.005,"s":"Extracted"},{"t":0.01603,"v":0.03,"s":"Extracted"},{"t":0.01626,"v":0.05,"s":"Extracted"},{"t":0.01649,"v":0.02,"s":"Extracted"},{"t":0.01672,"v":-0.005,"s":"Extracted"},{"t":0.01698,"v":-0.05,"s":"Extracted"},{"t":0.01725,"v":-0.08,"s":"Extracted"},{"t":0.01748,"v":-0.1,"s":"Extracted"},{"t":0.01767,"v":-0.03,"s":"Extracted"},{"t":0.01786,"v":0.23,"s":"Extracted"},{"t":0.01805,"v":0.145,"s":"Extracted"},{"t":0.01824,"v":-0.255,"s":"Extracted"},{"t":0.01844,"v":-0.075,"s":"Extracted"},{"t":0.01863,"v":0.245,"s":"Extracted"},{"t":0.01882,"v":0.09,"s":"Extracted"},{"t":0.01901,"v":-0.115,"s":"Extracted"},{"t":0.0192,"v":0.04,"s":"Extracted"},{"t":0.01939,"v":0.09,"s":"Extracted"},{"t":0.01958,"v":0.08,"s":"Extracted"},{"t":0.01977,"v":0.03,"s":"Extracted"},{"t":0.01996,"v":0.04,"s":"Extracted"},{"t":0.02015,"v":0.1,"s":"Extracted"},{"t":0.02034,"v":0.09,"s":"Extracted"},{"t":0.02053,"v":0.055,"s":"Extracted"},{"t":0.02073,"v":0.02,"s":"Extracted"},{"t":0.02092,"v":0.025,"s":"Extracted"},{"t":0.02111,"v":-0.03,"s":"Extracted"},{"t":0.0213,"v":-0.05,"s":"Extracted"},{"t":0.02149,"v":-0.1,"s":"Extracted"},{"t":0.02168,"v":-0.15,"s":"Extracted"},{"t":0.02185,"v":0,"s":"Extracted"},{"t":0.022,"v":0.275,"s":"Extracted"},{"t":0.02219,"v":0.14,"s":"Extracted"},{"t":0.02238,"v":-0.33,"s":"Extracted"},{"t":0.02258,"v":0.045,"s":"Extracted"},{"t":0.02277,"v":0.31,"s":"Extracted"},{"t":0.02292,"v":0.2,"s":"Extracted"},{"t":0.02312,"v":-0.24,"s":"Extracted"},{"t":0.02331,"v":-0.085,"s":"Extracted"},{"t":0.0235,"v":0.09,"s":"Extracted"},{"t":0.02369,"v":0.06,"s":"Extracted"},{"t":0.02388,"v":0.07,"s":"Extracted"},{"t":0.02408,"v":-0.03,"s":"Extracted"},{"t":0.02427,"v":0.03,"s":"Extracted"},{"t":0.02446,"v":0.08,"s":"Extracted"},{"t":0.02465,"v":0.06,"s":"Extracted"},{"t":0.02485,"v":-0.01,"s":"Extracted"},{"t":0.02508,"v":0,"s":"Extracted"},{"t":0.02527,"v":-0.03,"s":"Extracted"},{"t":0.02546,"v":-0.1,"s":"Extracted"},{"t":0.02565,"v":-0.15,"s":"Extracted"},{"t":0.02585,"v":-0.21,"s":"Extracted"},{"t":0.02604,"v":0.13,"s":"Extracted"},{"t":0.02619,"v":0.36,"s":"Extracted"},{"t":0.02635,"v":0.09,"s":"Extracted"},{"t":0.02654,"v":-0.37,"s":"Extracted"},{"t":0.02673,"v":-0.04,"s":"Extracted"},{"t":0.02692,"v":0.355,"s":"Extracted"},{"t":0.02712,"v":0.09,"s":"Extracted"},{"t":0.02731,"v":-0.25,"s":"Extracted"},{"t":0.0275,"v":-0.02,"s":"Extracted"},{"t":0.02769,"v":0.1,"s":"Extracted"},{"t":0.02788,"v":0.05,"s":"Extracted"},{"t":0.02808,"v":0.05,"s":"Extracted"},{"t":0.02827,"v":-0.03,"s":"Extracted"},{"t":0.02846,"v":0.04,"s":"Extracted"},{"t":0.02865,"v":0.09,"s":"Extracted"},{"t":0.02885,"v":0.04,"s":"Extracted"},{"t":0.02904,"v":-0.03,"s":"Extracted"},{"t":0.02923,"v":-0.01,"s":"Extracted"},{"t":0.02942,"v":-0.06,"s":"Extracted"},{"t":0.02962,"v":-0.12,"s":"Extracted"},{"t":0.02981,"v":-0.15,"s":"Extracted"},{"t":0.03,"v":-0.19,"s":"Extracted"},{"t":0.03019,"v":0.05,"s":"Extracted"},{"t":0.03038,"v":0.33,"s":"Extracted"},{"t":0.03058,"v":0.09,"s":"Extracted"},{"t":0.03077,"v":-0.47,"s":"Extracted"},{"t":0.03096,"v":-0.11,"s":"Extracted"},{"t":0.03115,"v":0.383,"s":"Extracted"},{"t":0.03135,"v":0.035,"s":"Extracted"},{"t":0.03154,"v":-0.25,"s":"Extracted"},{"t":0.03173,"v":0.09,"s":"Extracted"},{"t":0.03192,"v":0.03,"s":"Extracted"},{"t":0.03212,"v":0.1,"s":"Extracted"},{"t":0.03231,"v":0.178,"s":"Extracted"},{"t":0.0325,"v":-0.01,"s":"Extracted"},{"t":0.03269,"v":0.08,"s":"Extracted"},{"t":0.03288,"v":0.06,"s":"Extracted"},{"t":0.03308,"v":-0.05,"s":"Extracted"},{"t":0.03327,"v":-0.09,"s":"Extracted"},{"t":0.03346,"v":-0.06,"s":"Extracted"},{"t":0.03365,"v":-0.03,"s":"Extracted"},{"t":0.03385,"v":-0.12,"s":"Extracted"},{"t":0.03404,"v":-0.2,"s":"Extracted"},{"t":0.03423,"v":-0.275,"s":"Extracted"},{"t":0.03438,"v":0.16,"s":"Extracted"},{"t":0.03454,"v":0.38,"s":"Extracted"},{"t":0.03469,"v":0.16,"s":"Extracted"},{"t":0.03485,"v":-0.47,"s":"Extracted"},{"t":0.035,"v":-0.075,"s":"Extracted"},{"t":0.03515,"v":0.19,"s":"Extracted"},{"t":0.03527,"v":0.397,"s":"Extracted"},{"t":0.03542,"v":0.09,"s":"Extracted"},{"t":0.03558,"v":-0.24,"s":"Extracted"},{"t":0.03577,"v":-0.07,"s":"Extracted"},{"t":0.03592,"v":0.1,"s":"Extracted"},{"t":0.03612,"v":0.07,"s":"Extracted"},{"t":0.03627,"v":0.1,"s":"Extracted"},{"t":0.03646,"v":0.05,"s":"Extracted"},{"t":0.03665,"v":0.01,"s":"Extracted"},{"t":0.03685,"v":0.04,"s":"Extracted"},{"t":0.03704,"v":0.12,"s":"Extracted"},{"t":0.03723,"v":0.07,"s":"Extracted"},{"t":0.03742,"v":-0.01,"s":"Extracted"},{"t":0.03762,"v":0.04,"s":"Extracted"},{"t":0.03777,"v":-0.015,"s":"Extracted"},{"t":0.03796,"v":-0.11,"s":"Extracted"},{"t":0.03815,"v":-0.2,"s":"Extracted"},{"t":0.03835,"v":0.09,"s":"Extracted"},{"t":0.03854,"v":0.38,"s":"Extracted"},{"t":0.03873,"v":0.09,"s":"Extracted"},{"t":0.03892,"v":-0.45,"s":"Extracted"},{"t":0.03912,"v":-0.045,"s":"Extracted"},{"t":0.03931,"v":0.39,"s":"Extracted"},{"t":0.0395,"v":0.09,"s":"Extracted"},{"t":0.03969,"v":-0.18,"s":"Extracted"},{"t":0.03988,"v":-0.015,"s":"Extracted"},{"t":0.04008,"v":0.08,"s":"Extracted"},{"t":0.04027,"v":0.09,"s":"Extracted"},{"t":0.04046,"v":0.06,"s":"Extracted"},{"t":0.04065,"v":0,"s":"Extracted"},{"t":0.04085,"v":-0.05,"s":"Extracted"},{"t":0.04104,"v":0.07,"s":"Extracted"},{"t":0.04123,"v":0.06,"s":"Extracted"},{"t":0.04142,"v":0.01,"s":"Extracted"},{"t":0.04162,"v":-0.03,"s":"Extracted"},{"t":0.04181,"v":0.03,"s":"Extracted"},{"t":0.042,"v":-0.01,"s":"Extracted"},{"t":0.04219,"v":-0.09,"s":"Extracted"},{"t":0.04238,"v":-0.2,"s":"Extracted"},{"t":0.04258,"v":0.09,"s":"Extracted"},{"t":0.04277,"v":0.325,"s":"Extracted"},{"t":0.04296,"v":0.09,"s":"Extracted"},{"t":0.04309,"v":-0.366,"s":"Extracted"},{"t":0.04332,"v":-0.045,"s":"Extracted"},{"t":0.04351,"v":0.3,"s":"Extracted"},{"t":0.0437,"v":0.09,"s":"Extracted"},{"t":0.04389,"v":-0.14,"s":"Extracted"},{"t":0.04408,"v":0.02,"s":"Extracted"},{"t":0.04427,"v":0.05,"s":"Extracted"},{"t":0.04447,"v":0.09,"s":"Extracted"},{"t":0.04466,"v":0.08,"s":"Extracted"},{"t":0.04485,"v":-0.015,"s":"Extracted"},{"t":0.04504,"v":-0.08,"s":"Extracted"},{"t":0.04523,"v":0.08,"s":"Extracted"},{"t":0.04542,"v":-0.03,"s":"Extracted"},{"t":0.04561,"v":-0.02,"s":"Extracted"},{"t":0.0458,"v":-0.01,"s":"Extracted"},{"t":0.04599,"v":-0.05,"s":"Extracted"},{"t":0.04618,"v":-0.1,"s":"Extracted"},{"t":0.04637,"v":-0.147,"s":"Extracted"},{"t":0.04656,"v":-0.04,"s":"Extracted"},{"t":0.04676,"v":0.21,"s":"Extracted"},{"t":0.04695,"v":0.09,"s":"Extracted"},{"t":0.04714,"v":-0.27,"s":"Extracted"},{"t":0.04733,"v":-0.045,"s":"Extracted"},{"t":0.04752,"v":0.19,"s":"Extracted"},{"t":0.04771,"v":0.05,"s":"Extracted"},{"t":0.0479,"v":-0.08,"s":"Extracted"},{"t":0.04809,"v":-0.03,"s":"Extracted"},{"t":0.04828,"v":0.02,"s":"Extracted"},{"t":0.04847,"v":0.03,"s":"Extracted"},{"t":0.04866,"v":0.05,"s":"Extracted"},{"t":0.04885,"v":-0.02,"s":"Extracted"},{"t":0.04905,"v":-0.04,"s":"Extracted"},{"t":0.04924,"v":0.05,"s":"Extracted"},{"t":0.04943,"v":0.05,"s":"Extracted"},{"t":0.04962,"v":-0.03,"s":"Extracted"},{"t":0.04981,"v":-0.03,"s":"Extracted"},{"t":0.05,"v":-0.02,"s":"Extracted"},{"t":0.05019,"v":-0.05,"s":"Extracted"},{"t":0.05038,"v":-0.08,"s":"Extracted"},{"t":0.05057,"v":-0.06,"s":"Extracted"},{"t":0.05076,"v":0.115,"s":"Extracted"},{"t":0.05095,"v":-0.01,"s":"Extracted"},{"t":0.05115,"v":-0.147,"s":"Extracted"},{"t":0.05134,"v":-0.01,"s":"Extracted"},{"t":0.05156,"v":0.09,"s":"Extracted"},{"t":0.05172,"v":0.035,"s":"Extracted"},{"t":0.05191,"v":0,"s":"Extracted"},{"t":0.0521,"v":-0.01,"s":"Extracted"},{"t":0.05229,"v":-0.01,"s":"Extracted"},{"t":0.05248,"v":0,"s":"Extracted"},{"t":0.05267,"v":0.04,"s":"Extracted"},{"t":0.05286,"v":0,"s":"Extracted"},{"t":0.05305,"v":-0.015,"s":"Extracted"},{"t":0.05324,"v":-0.01,"s":"Extracted"},{"t":0.05344,"v":0.03,"s":"Extracted"},{"t":0.05363,"v":0,"s":"Extracted"},{"t":0.05382,"v":-0.01,"s":"Extracted"},{"t":0.05401,"v":-0.02,"s":"Extracted"},{"t":0.0542,"v":-0.02,"s":"Extracted"},{"t":0.05439,"v":-0.025,"s":"Extracted"},{"t":0.05458,"v":-0.02,"s":"Extracted"},{"t":0.05477,"v":0,"s":"Extracted"},{"t":0.05496,"v":0.055,"s":"Extracted"},{"t":0.05515,"v":0.01,"s":"Extracted"},{"t":0.05534,"v":-0.035,"s":"Extracted"},{"t":0.05553,"v":-0.01,"s":"Extracted"},{"t":0.05573,"v":0.04,"s":"Extracted"},{"t":0.05592,"v":0.005,"s":"Extracted"},{"t":0.05611,"v":-0.005,"s":"Extracted"},{"t":0.0563,"v":0,"s":"Extracted"},{"t":0.05656,"v":0.002,"s":"Extracted"},{"t":0.05687,"v":0,"s":"Extracted"},{"t":0.05714,"v":-0.002,"s":"Extracted"},{"t":0.05744,"v":0,"s":"Extracted"},{"t":0.05782,"v":0.001,"s":"Extracted"},{"t":0.05821,"v":-0.001,"s":"Extracted"},{"t":0.05859,"v":0.002,"s":"Extracted"},{"t":0.05897,"v":-0.001,"s":"Extracted"},{"t":0.05935,"v":0.001,"s":"Extracted"},{"t":0.05973,"v":0,"s":"Extracted"},{"t":0.06011,"v":0.001,"s":"Extracted"},{"t":0.06088,"v":0,"s":"Extracted"},{"t":0.06164,"v":0,"s":"Extracted"},{"t":0.064,"v":0,"s":"Extracted"}]
},
"vconcat":[
{
 "width":555,"height":259,
 "title":"Windowed Mixture Waveform",
 "layer":[
  {"data":{"name":"mix"},"mark":{"type":"line","color":"#0000ff","strokeWidth":2},
   "encoding":{
    "x":{"field":"t","type":"quantitative","scale":{"domain":[0,0.064],"nice":false,"zero":false},"axis":{"values":[0,0.01,0.02,0.03,0.04,0.05,0.06],"labelExpr":"format(datum.value,'~g')","title":"Time (s)","labelPadding":14}},
    "y":{"field":"v","type":"quantitative","scale":{"domain":[-1,1],"nice":false},"axis":{"values":[-1,-0.5,0,0.5,1],"labelExpr":"format(datum.value,'~g')","title":null,"labelPadding":10}}}},
  {"data":{"name":"win"},"mark":{"type":"line","color":"black","strokeWidth":2,"interpolate":"monotone"},
   "encoding":{
    "x":{"field":"t","type":"quantitative","axis":{"orient":"top","values":[0,0.01,0.02,0.03,0.04,0.05,0.06],"labels":false,"title":null}},
    "y":{"field":"v","type":"quantitative","axis":{"orient":"right","values":[-1,-0.5,0,0.5,1],"labels":false,"title":null}}}}
 ],
 "resolve":{"axis":{"x":"independent","y":"independent"}}
},
{
 "width":555,"height":259,
 "title":"1ˢᵗ source Waveform",
 "layer":[
  {"data":{"name":"s1o"},"mark":{"type":"line","strokeWidth":2,"interpolate":"monotone"},
   "encoding":{
    "x":{"field":"t","type":"quantitative","scale":{"domain":[0,0.064],"nice":false,"zero":false},"axis":{"values":[0,0.01,0.02,0.03,0.04,0.05,0.06],"labelExpr":"format(datum.value,'~g')","title":"Time (s)","labelPadding":14}},
    "y":{"field":"v","type":"quantitative","scale":{"domain":[-0.4,0.6],"nice":false},"axis":{"values":[-0.4,-0.2,0,0.2,0.4,0.6],"labelExpr":"format(datum.value,'~g')","title":null,"labelPadding":10}},
    "color":{"field":"s","type":"nominal","scale":{"domain":["Original","Extracted"],"range":["#0000ff","#ff0000"]},"legend":{"orient":"top-left"}}}},
  {"data":{"name":"s1e"},"mark":{"type":"line","strokeWidth":2,"interpolate":"monotone"},
   "encoding":{
    "x":{"field":"t","type":"quantitative","axis":{"orient":"top","values":[0,0.01,0.02,0.03,0.04,0.05,0.06],"labels":false,"title":null}},
    "y":{"field":"v","type":"quantitative","axis":{"orient":"right","values":[-0.4,-0.2,0,0.2,0.4,0.6],"labels":false,"title":null}},
    "color":{"field":"s","type":"nominal"}}}
 ],
 "resolve":{"axis":{"x":"independent","y":"independent"}}
},
{
 "width":555,"height":259,
 "title":"2ⁿᵈ source Waveform",
 "layer":[
  {"data":{"name":"s2o"},"mark":{"type":"line","strokeWidth":2},
   "encoding":{
    "x":{"field":"t","type":"quantitative","scale":{"domain":[0,0.064],"nice":false,"zero":false},"axis":{"values":[0,0.01,0.02,0.03,0.04,0.05,0.06],"labelExpr":"format(datum.value,'~g')","title":"Time (s)","labelPadding":14}},
    "y":{"field":"v","type":"quantitative","scale":{"domain":[-0.6,0.5],"nice":false},"axis":{"values":[-0.5,0,0.5],"labelExpr":"format(datum.value,'~g')","title":null,"labelPadding":10}},
    "color":{"field":"s","type":"nominal","scale":{"domain":["Original","Extracted"],"range":["#0000ff","#ff0000"]},"legend":{"orient":"bottom-left"}}}},
  {"data":{"name":"s2e"},"mark":{"type":"line","strokeWidth":2},
   "encoding":{
    "x":{"field":"t","type":"quantitative","axis":{"orient":"top","values":[0,0.01,0.02,0.03,0.04,0.05,0.06],"labels":false,"title":null}},
    "y":{"field":"v","type":"quantitative","axis":{"orient":"right","values":[-0.5,0,0.5],"labels":false,"title":null}},
    "color":{"field":"s","type":"nominal"}}}
 ],
 "resolve":{"axis":{"x":"independent","y":"independent"}}
}
]
}
